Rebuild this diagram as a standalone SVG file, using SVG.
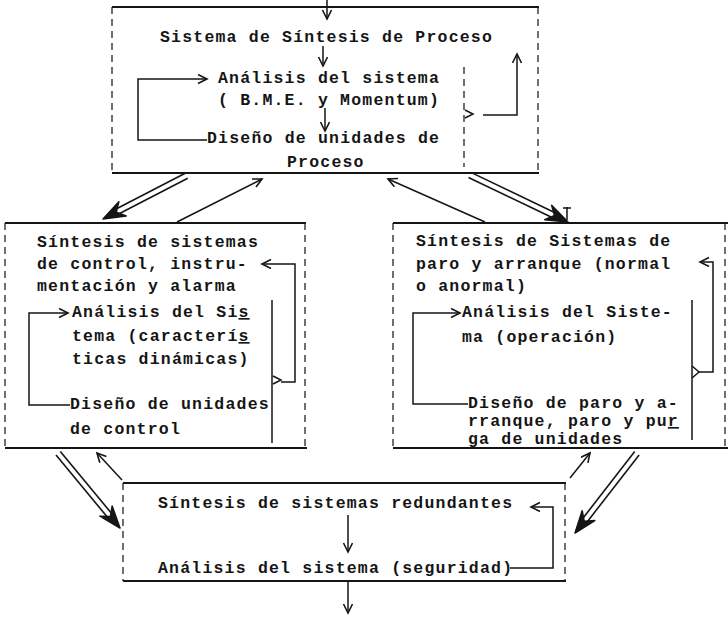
<svg xmlns="http://www.w3.org/2000/svg" xmlns:xlink="http://www.w3.org/1999/xlink" width="728" height="617" viewBox="0 0 728 617">
<style>
  text { font-family: "Liberation Mono", "DejaVu Sans Mono", monospace; font-weight: bold; font-size: 16.5px; letter-spacing: 1.2px; fill: #151515; }
  .solid { stroke: #151515; stroke-width: 1.8; fill: none; }
  .dash { stroke: #222; stroke-width: 1.3; stroke-dasharray: 7 5; fill: none; }
  .ln { stroke: #151515; stroke-width: 1.5; fill: none; }
  .arr { stroke: #151515; stroke-width: 1.5; fill: none; marker-end: url(#ah); }
  .dbl { stroke: #151515; stroke-width: 1.6; fill: none; }
  .u { text-decoration: underline; }
</style>
<defs>
  <marker id="ah" markerUnits="userSpaceOnUse" markerWidth="14" markerHeight="14" refX="10" refY="5" orient="auto">
    <path d="M1,0.5 L10,5 L1,9.5" stroke="#151515" stroke-width="1.6" fill="none"/>
  </marker>
  <path id="hv" d="M0,0 L-22,-8 L-15,0 L-22,8 Z" fill="#151515" stroke="#151515" stroke-width="1.5" stroke-linejoin="round"/>
</defs>
<rect width="728" height="617" fill="#ffffff"/>

<g id="node-proceso">
  <line class="solid" x1="112" y1="7" x2="539" y2="7"/>
  <line class="solid" x1="112" y1="173" x2="539" y2="173"/>
  <line class="dash" x1="112" y1="7" x2="112" y2="173"/>
  <line class="dash" x1="538" y1="7" x2="538" y2="173"/>
  <text x="160" y="42">Sistema de Síntesis de Proceso</text>
  <path class="arr" d="M323,46 V66"/>
  <text x="218" y="83">Análisis del sistema</text>
  <text x="218" y="105">( B.M.E. y Momentum)</text>
  <path class="arr" d="M325,108 V131"/>
  <text x="207" y="143">Diseño de unidades de</text>
  <text x="287" y="167">Proceso</text>
  <path class="arr" d="M207,140 H138 V79 H207"/>
  <line class="dash" x1="464" y1="67" x2="464" y2="167"/>
  <path class="ln" d="M465,110 L473,114 L465,118"/>
  <path class="arr" d="M483,115 H517 V54"/>
</g>

<g id="node-control">
  <line class="solid" x1="5" y1="223" x2="306" y2="223"/>
  <line class="solid" x1="5" y1="448" x2="307" y2="448"/>
  <line class="dash" x1="5" y1="223" x2="5" y2="448"/>
  <line class="dash" x1="305" y1="223" x2="305" y2="448"/>
  <text x="37" y="247">Síntesis de sistemas</text>
  <text x="37" y="269">de control, instru-</text>
  <text x="37" y="291">mentación y alarma</text>
  <text x="72" y="317">Análisis del Si<tspan class="u">s</tspan></text>
  <text x="72" y="341">tema (caracterí<tspan class="u">s</tspan></text>
  <text x="72" y="364">ticas dinámicas)</text>
  <text x="70" y="409">Diseño de unidades</text>
  <text x="70" y="434">de control</text>
  <path class="arr" d="M70,405 H29 V313 H68"/>
  <line class="ln" x1="272" y1="300" x2="272" y2="443"/>
  <path class="ln" d="M273,376 L281,380 L273,384"/>
  <path class="arr" d="M281,382 H295 V264 H262"/>
</g>

<g id="node-paro">
  <line class="solid" x1="393" y1="223" x2="728" y2="223"/>
  <line class="solid" x1="393" y1="448" x2="728" y2="448"/>
  <line class="dash" x1="393" y1="223" x2="393" y2="448"/>
  <line class="dash" x1="725" y1="223" x2="725" y2="448"/>
  <text x="416" y="246">Síntesis de Sistemas de</text>
  <text x="416" y="269">paro y arranque (normal</text>
  <text x="416" y="291">o anormal)</text>
  <text x="462" y="317">Análisis del Siste-</text>
  <text x="462" y="342">ma (operación)</text>
  <text x="468" y="408">Diseño de paro y a-</text>
  <text x="468" y="426">rranque, paro y pu<tspan class="u">r</tspan></text>
  <text x="468" y="444">ga de unidades</text>
  <path class="arr" d="M468,404 H413 V313 H460"/>
  <line class="ln" x1="692" y1="300" x2="692" y2="440"/>
  <path class="ln" d="M692,366 L699,372 L692,378"/>
  <path class="arr" d="M699,372 H713 V262 H700"/>
</g>

<g id="node-redundantes">
  <line class="solid" x1="123" y1="483" x2="566" y2="483"/>
  <line class="solid" x1="123" y1="581" x2="566" y2="581"/>
  <line class="dash" x1="123" y1="483" x2="123" y2="581"/>
  <line class="dash" x1="565" y1="483" x2="565" y2="581"/>
  <text x="158" y="508">Síntesis de sistemas redundantes</text>
  <path class="arr" d="M348,515 V552"/>
  <text x="158" y="573">Análisis del sistema (seguridad)</text>
  <path class="arr" d="M510,568 H553 V507 H531"/>
</g>

<g id="connectors">
  <path class="arr" d="M327,0 V19"/>
  <path class="arr" d="M348,582 V613"/>
  <path class="arr" d="M177,222 L262,179"/>
  <path class="arr" d="M485,222 L388,179"/>
  <path class="arr" d="M122,480 L97,453"/>
  <path class="arr" d="M570,478 L590,453"/>
  <g transform="translate(103,219) rotate(152.6)">
    <line class="dbl" x1="-94" y1="-2.8" x2="-14" y2="-2.8"/>
    <line class="dbl" x1="-94" y1="2.8" x2="-14" y2="2.8"/>
    <use xlink:href="#hv"/>
  </g>
  <g transform="translate(568,222) rotate(25.6)">
    <line class="dbl" x1="-109" y1="-2.8" x2="-14" y2="-2.8"/>
    <line class="dbl" x1="-109" y1="2.8" x2="-14" y2="2.8"/>
    <use xlink:href="#hv"/>
  </g>
  <path class="ln" d="M567,207 V220 M563,208 H571"/>
  <g transform="translate(120,528) rotate(50.4)">
    <line class="dbl" x1="-97" y1="-2.8" x2="-14" y2="-2.8"/>
    <line class="dbl" x1="-97" y1="2.8" x2="-14" y2="2.8"/>
    <use xlink:href="#hv"/>
  </g>
  <g transform="translate(575,533) rotate(127.8)">
    <line class="dbl" x1="-101" y1="-2.8" x2="-14" y2="-2.8"/>
    <line class="dbl" x1="-101" y1="2.8" x2="-14" y2="2.8"/>
    <use xlink:href="#hv"/>
  </g>
</g>
</svg>
